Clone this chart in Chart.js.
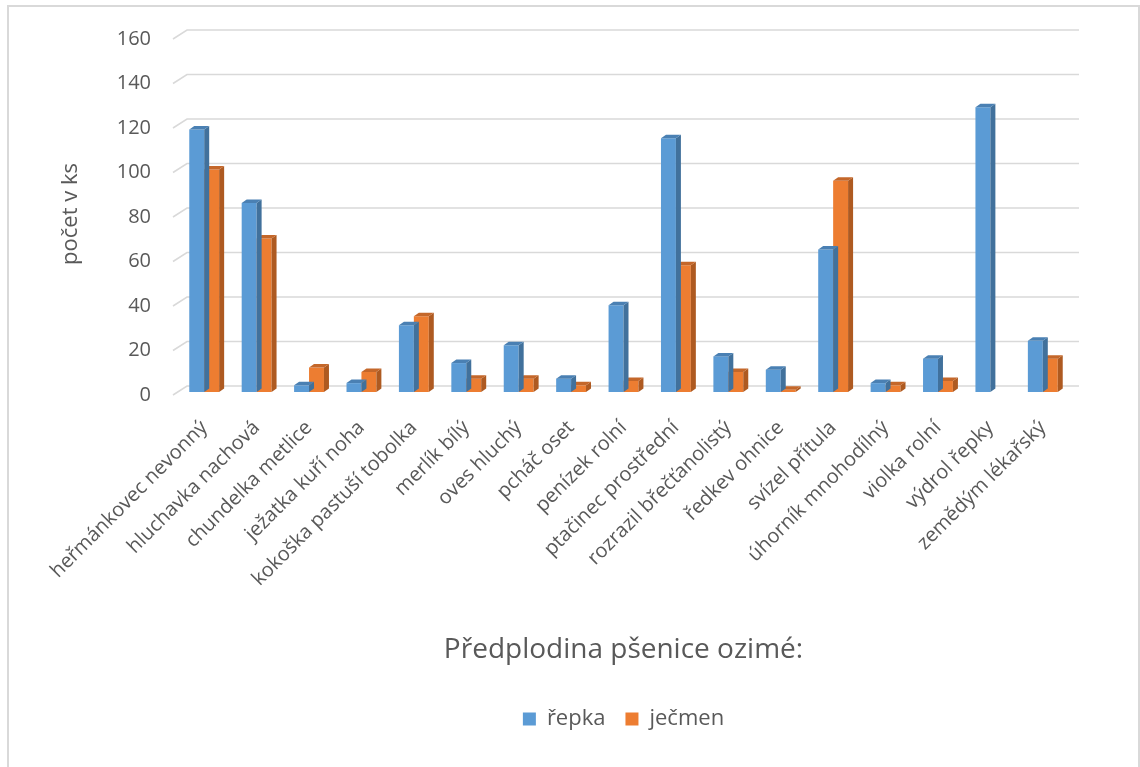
<!DOCTYPE html>
<html>
<head>
<meta charset="utf-8">
<script src="https://cdn.jsdelivr.net/npm/chart.js@4.4.0/dist/chart.umd.min.js"></script>
<style>
html, body { margin: 0; padding: 0; background: #fff; overflow: hidden; }
#wrap { position: relative; width: 1140px; height: 767px; }
#frame { position: absolute; left: 7px; top: 5px; width: 1129px; height: 800px; border: 2px solid #d9d9d9; }
#chart { position: absolute; left: 0; top: 0; }
</style>
</head>
<body>
<div id="wrap">
  <div id="frame"></div>
  <canvas id="chart" width="1140" height="767"></canvas>
</div>
<script>
const categories = [
  "heřmánkovec nevonný", "hluchavka nachová", "chundelka metlice", "ježatka kuří noha",
  "kokoška pastuší tobolka", "merlík bílý", "oves hluchý", "pcháč oset", "penízek rolní",
  "ptačinec prostřední", "rozrazil břečťanolistý", "ředkev ohnice", "svízel přítula",
  "úhorník mnohodílný", "violka rolní", "výdrol řepky", "zemědým lékařský"
];
const repka  = [118, 85, 3, 4, 30, 13, 21, 6, 39, 114, 16, 10, 64, 4, 15, 128, 23];
const jecmen = [100, 69, 11, 9, 34, 6, 6, 3, 5, 57, 9, 1, 95, 3, 5, null, 15];
const yTicks = [0, 20, 40, 60, 80, 100, 120, 140, 160];

const frontColors = ["#5b9bd5", "#ed7d31"];
const sideColors = ["#41719c", "#ae5a21"];
const topColors = ["#4a80b3", "#c4672a"];
const textColor = "#595959";
const fontName = "'Open Sans', 'DejaVu Sans', sans-serif";

// fake 3D: back-wall grid and bar sides
const dx = 5, dy = 3.5;
const depthPlugin = {
  id: "depth",
  beforeDatasetsDraw(chart) {
    const ctx = chart.ctx;
    const y = chart.scales.y;
    const area = chart.chartArea;
    ctx.save();
    ctx.strokeStyle = "#d9d9d9";
    ctx.lineWidth = 1.5;
    yTicks.forEach(v => {
      const yf = y.getPixelForValue(v);
      ctx.beginPath();
      ctx.moveTo(area.left - 5, yf + 3);
      ctx.lineTo(area.left + 9, yf - 6);
      ctx.lineTo(area.right + 10, yf - 6);
      ctx.stroke();
    });
    ctx.restore();
  },
  afterDatasetDraw(chart, args) {
    const ctx = chart.ctx;
    const i = args.index;
    const values = chart.data.datasets[i].data;
    ctx.save();
    args.meta.data.forEach((bar, j) => {
      if (values[j] == null) return;
      const {x, y, base, width} = bar.getProps(["x", "y", "base", "width"], true);
      const l = x - width / 2, r = x + width / 2;
      ctx.fillStyle = sideColors[i];
      ctx.beginPath();
      ctx.moveTo(r, y);
      ctx.lineTo(r + dx, y - dy);
      ctx.lineTo(r + dx, base - dy);
      ctx.lineTo(r, base);
      ctx.closePath();
      ctx.fill();
      ctx.fillStyle = topColors[i];
      ctx.beginPath();
      ctx.moveTo(l, y);
      ctx.lineTo(l + dx, y - dy);
      ctx.lineTo(r + dx, y - dy);
      ctx.lineTo(r, y);
      ctx.closePath();
      ctx.fill();
    });
    ctx.restore();
  }
};

new Chart("chart", {
  type: "bar",
  data: {
    labels: categories,
    datasets: [{
      label: "řepka",
      data: repka,
      backgroundColor: frontColors[0],
      borderWidth: 0
    }, {
      label: "ječmen",
      data: jecmen,
      backgroundColor: frontColors[1],
      borderWidth: 0
    }]
  },
  options: {
    responsive: false,
    animation: false,
    categoryPercentage: 0.57,
    barPercentage: 1,
    layout: {
      padding: { left: 54, right: 71, top: 36, bottom: 27 }
    },
    plugins: {
      tooltip: { enabled: false },
      legend: {
        position: "bottom",
        fullSize: false,
        labels: {
          color: textColor,
          font: { family: fontName, size: 22 },
          boxWidth: 13,
          boxHeight: 13,
          padding: 20
        }
      }
    },
    scales: {
      x: {
        grid: { display: false },
        border: { display: false },
        ticks: {
          autoSkip: false,
          minRotation: 45,
          maxRotation: 45,
          color: textColor,
          font: { family: fontName, size: 20 },
          padding: 16
        },
        title: {
          display: true,
          text: "Předplodina pšenice ozimé:",
          color: textColor,
          font: { family: fontName, size: 28 },
          padding: { top: 0, bottom: 21 }
        },
        afterFit(scale) { scale.height = 296; }
      },
      y: {
        min: 0,
        max: 160,
        afterBuildTicks(scale) { scale.ticks = yTicks.map(v => ({ value: v })); },
        grid: { display: false },
        border: { display: false },
        ticks: {
          color: textColor,
          font: { family: fontName, size: 20 },
          padding: 19,
          labelOffset: 3
        },
        title: {
          display: true,
          text: "počet v ks",
          color: textColor,
          font: { family: fontName, size: 22 },
          padding: { top: 4, bottom: 4 }
        },
        afterFit(scale) { scale.width = 124; }
      }
    }
  },
  plugins: [depthPlugin]
});
</script>
</body>
</html>
